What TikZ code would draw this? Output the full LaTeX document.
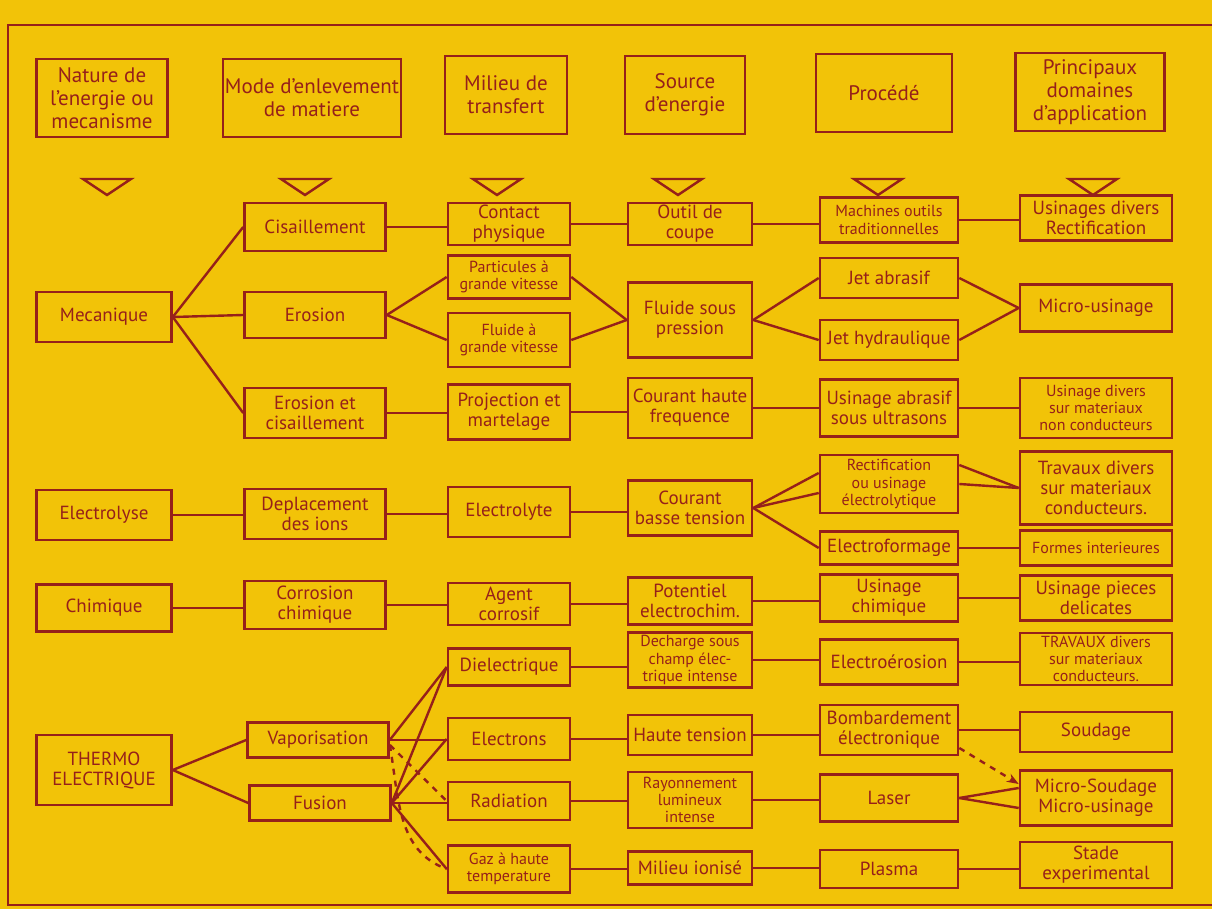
\documentclass[tikz,border=0pt]{standalone}
\usepackage{fontspec}
\setmainfont{PT Sans}
\usetikzlibrary{arrows.meta}

\definecolor{paper}{RGB}{242,195,8}
\definecolor{ink}{RGB}{150,32,26}

\begin{document}
\begin{tikzpicture}[x=0.5pt,y=-0.5pt,
    every node/.style={font=\fontsize{9.5}{10}\selectfont, text=ink},
    cell/.style={draw=ink, line width=1.3pt, align=center, inner sep=1pt},
    headbox/.style={cell, minimum height=39pt, font=\fontsize{10.5}{11.5}\selectfont},
    natbox/.style={cell, minimum width=67.5pt, minimum height=#1*0.5pt},
    modbox/.style={cell, minimum width=70.5pt, minimum height=#1*0.5pt},
    milbox/.style={cell, minimum width=61pt, minimum height=#1*0.5pt},
    srcbox/.style={cell, minimum width=62pt, minimum height=#1*0.5pt},
    probox/.style={cell, minimum width=69pt, minimum height=#1*0.5pt},
    dombox/.style={cell, minimum width=76pt, minimum height=#1*0.5pt},
    smalltxt/.style={font=\fontsize{8}{8.6}\selectfont},
    link/.style={draw=ink, line width=1.2pt}]

\fill[paper] (0,0) rectangle (1212,909);
\useasboundingbox (0,0) rectangle (1212,909);

% frame and column markers
\draw[ink, line width=1.2pt] (1212,25) -- (8,25) -- (8,905) -- (1212,905);
\foreach \x in {107,305,497,678,878,1093}
    \draw[ink, line width=1.2pt] (\x-24,179) -- (\x+24,179) -- (\x,195) -- cycle;

% headers
\node[headbox, minimum width=65.5pt] (hnat) at (102,98) {Nature de\\l'energie ou\\mecanisme};
\node[headbox, minimum width=86pt] (hmod) at (312,98) {Mode d'enlevement\\de matiere};
\node[headbox, minimum width=61pt] (hmil) at (506,95) {Milieu de\\transfert};
\node[headbox, minimum width=60pt] (hsrc) at (685,95) {Source\\d'energie};
\node[headbox, minimum width=68pt] (hpro) at (884,93) {Procédé};
\node[headbox, minimum width=74.5pt] (hdom) at (1090,92) {Principaux\\domaines\\d'application};

% nature de l'energie
\node[natbox=50] (meca) at (104,317) {Mecanique};
\node[natbox=50] (elyse) at (104,515) {Electrolyse};
\node[natbox=47] (chim) at (104,608) {Chimique};
\node[natbox=70] (thermo) at (104,770) {THERMO\\ELECTRIQUE};

% mode d'enlevement
\node[modbox=48] (cis) at (315,227) {Cisaillement};
\node[modbox=46] (ero) at (315,315) {Erosion};
\node[modbox=50] (erocis) at (315,413) {Erosion et\\cisaillement};
\node[modbox=50] (depl) at (315,514) {Deplacement\\des ions};
\node[modbox=48] (corr) at (315,605) {Corrosion\\chimique};
\node[modbox=35] (vapo) at (318,740) {Vaporisation};
\node[modbox=35] (fus) at (320,803) {Fusion};

% milieu de transfert
\node[milbox=42] (contact) at (509,224) {Contact\\physique};
\node[milbox=43, smalltxt] (partic) at (509,277) {Particules à\\grande vitesse};
\node[milbox=54, smalltxt] (fluidegv) at (509,340) {Fluide à\\grande vitesse};
\node[milbox=55] (proj) at (509,412) {Projection et\\martelage};
\node[milbox=50] (elyte) at (509,512) {Electrolyte};
\node[milbox=42] (agent) at (509,604) {Agent\\corrosif};
\node[milbox=37] (dielec) at (509,667) {Dielectrique};
\node[milbox=42] (electrons) at (509,739) {Electrons};
\node[milbox=38] (radiat) at (509,801) {Radiation};
\node[milbox=47, smalltxt] (gaz) at (509,869) {Gaz à haute\\temperature};

% source d'energie
\node[srcbox=42] (outil) at (690,224) {Outil de\\coupe};
\node[srcbox=75] (fsp) at (690,320) {Fluide sous\\pression};
\node[srcbox=60] (courhf) at (690,408) {Courant haute\\frequence};
\node[srcbox=55] (courbt) at (690,508) {Courant\\basse tension};
\node[srcbox=47] (potent) at (690,601) {Potentiel\\electrochim.};
\node[srcbox=55, smalltxt] (decharge) at (690,660) {Decharge sous\\champ élec-\\trique intense};
\node[srcbox=40] (hautet) at (690,735) {Haute tension};
\node[srcbox=56, smalltxt] (rayon) at (690,800) {Rayonnement\\lumineux\\intense};
\node[srcbox=33] (ionise) at (690,868) {Milieu ionisé};

% procede
\node[probox=45, smalltxt] (machines) at (889,220) {Machines outils\\traditionnelles};
\node[probox=40] (jetabr) at (889,278) {Jet abrasif};
\node[probox=40] (jethyd) at (889,340) {Jet hydraulique};
\node[probox=57] (ultra) at (889,408) {Usinage abrasif\\sous ultrasons};
\node[probox=58, smalltxt] (rectif) at (889,484) {Rectification\\ou usinage\\électrolytique};
\node[probox=33] (eform) at (889,548) {Electroformage};
\node[probox=47] (uchim) at (889,598) {Usinage\\chimique};
\node[probox=45] (eero) at (889,662) {Electroérosion};
\node[probox=50] (bomb) at (889,730) {Bombardement\\électronique};
\node[probox=47] (laser) at (889,798) {Laser};
\node[probox=38] (plasma) at (889,869) {Plasma};

% domaines d'application
\node[dombox=45] (usdiv) at (1096,218) {Usinages divers\\Rectification};
\node[dombox=47] (microus) at (1096,308) {Micro-usinage};
\node[dombox=60, smalltxt] (nonc) at (1096,408) {Usinage divers\\sur materiaux\\non conducteurs};
\node[dombox=73] (trav1) at (1096,488) {Travaux divers\\sur materiaux\\conducteurs.};
\node[dombox=35, smalltxt] (formes) at (1096,548) {Formes interieures};
\node[dombox=45] (pieces) at (1096,598) {Usinage pieces\\delicates};
\node[dombox=52, smalltxt] (trav2) at (1096,659) {TRAVAUX divers\\sur materiaux\\conducteurs.};
\node[dombox=40] (soud) at (1096,732) {Soudage};
\node[dombox=55] (msoud) at (1096,798) {Micro-Soudage\\Micro-usinage};
\node[dombox=46] (stade) at (1096,865) {Stade\\experimental};

% straight links along a row
\foreach \a/\b in {cis/contact, contact/outil, outil/machines, machines/usdiv,
    erocis/proj, proj/courhf, courhf/ultra, ultra/nonc,
    elyse/depl, depl/elyte, elyte/courbt, eform/formes,
    chim/corr, corr/agent, agent/potent, potent/uchim, uchim/pieces,
    vapo/electrons, dielec/decharge, decharge/eero, eero/trav2,
    electrons/hautet, hautet/bomb, bomb/soud, fus/radiat, radiat/rayon,
    rayon/laser, gaz/ionise, ionise/plasma, plasma/stade}
    \draw[link] (\a.east) -- (\a.east -| \b.west);

% branching links
\foreach \a/\b in {meca/cis, meca/ero, meca/erocis, ero/partic, ero/fluidegv,
    partic/fsp, fluidegv/fsp, fsp/jetabr, fsp/jethyd, jetabr/microus,
    jethyd/microus, courbt/eform, rectif/trav1, thermo/vapo, thermo/fus,
    vapo/dielec, fus/dielec, fus/electrons, fus/gaz}
    \draw[link] (\a.east) -- (\b.west);

\draw[link] (courbt.east) -- ([yshift=5.5pt]rectif.west);
\draw[link] (courbt.east) -- ([yshift=-4.5pt]rectif.west);
\draw[link] ([yshift=9.5pt]rectif.east) -- (trav1.west);
\draw[link] (laser.east) -- ([yshift=5pt]msoud.west);
\draw[link] (laser.east) -- ([yshift=-5pt]msoud.west);

% dashed links
\draw[link, dashed, -{Stealth[length=6pt]}] ([yshift=-9pt]bomb.east) -- ([yshift=7pt]msoud.west);
\draw[link, dashed] ([yshift=-2.5pt]vapo.east) -- (radiat.west);
\draw[link, dashed] ([yshift=-2.5pt]vapo.east) to[out=-80,in=160] (gaz.west);

\end{tikzpicture}
\end{document}
